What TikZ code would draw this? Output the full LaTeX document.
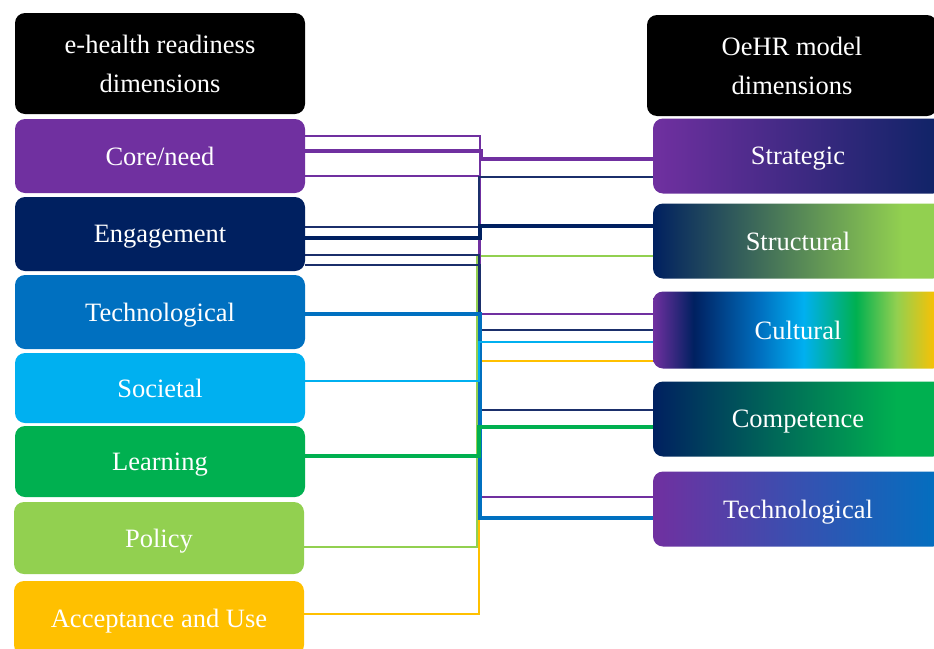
\documentclass[tikz,border=0pt]{standalone}
\usepackage{fontspec}
\setmainfont{Liberation Serif}
\usetikzlibrary{backgrounds}

\definecolor{cpurple}{HTML}{7030A0}
\definecolor{cnavy}{HTML}{002060}
\definecolor{cnavyline}{HTML}{1B2F6B}
\definecolor{cblue}{HTML}{0070C0}
\definecolor{ccyan}{HTML}{00B0F0}
\definecolor{cgreen}{HTML}{00B050}
\definecolor{clgreen}{HTML}{92D050}
\definecolor{cyellow}{HTML}{FFC000}
\definecolor{cdeep}{HTML}{0E2366}

% horizontal shadings: the node spans 25bp..75bp
\pgfdeclarehorizontalshading{shStrategic}{100bp}{color(0bp)=(cpurple); color(25bp)=(cpurple); color(75bp)=(cdeep); color(100bp)=(cdeep)}
\pgfdeclarehorizontalshading{shStructural}{100bp}{color(0bp)=(cnavy); color(25bp)=(cnavy); color(29bp)=(cnavy!90!clgreen); color(68bp)=(clgreen); color(100bp)=(clgreen)}
\pgfdeclarehorizontalshading{shCultural}{100bp}{color(0bp)=(cpurple); color(25bp)=(cpurple); color(32bp)=(cnavy); color(43.5bp)=(cblue); color(51bp)=(ccyan); color(60bp)=(cgreen); color(67bp)=(clgreen); color(74bp)=(cyellow); color(100bp)=(cyellow)}
\pgfdeclarehorizontalshading{shCompetence}{100bp}{color(0bp)=(cnavy); color(25bp)=(cnavy); color(67bp)=(cgreen); color(100bp)=(cgreen)}
\pgfdeclarehorizontalshading{shTech}{100bp}{color(0bp)=(cpurple); color(25bp)=(cpurple); color(75bp)=(cblue); color(100bp)=(cblue)}

\tikzset{
  box/.style={rounded corners=10pt, minimum width=290pt, inner sep=0pt,
    text=white, align=center, text depth=0pt, font=\fontsize{26.5}{39}\selectfont},
  thinlink/.style={line width=2.2pt},
  thicklink/.style={line width=4pt},
}

\begin{document}
\begin{tikzpicture}[x=1pt,y=-1pt]
\useasboundingbox (0,0) rectangle (934,648);

% left column: e-health readiness dimensions
\node[box, fill=black, minimum height=101pt] (hl) at (160,63.5) {e-health readiness\\dimensions};
\node[box, fill=cpurple, minimum height=74pt] (core) at (160,156) {Core/need};
\node[box, fill=cnavy, minimum height=74pt] (eng) at (160,234) {Engagement};
\node[box, fill=cblue, minimum height=74pt] (tech) at (160,312) {Technological};
\node[box, fill=ccyan, minimum height=70pt] (soc) at (160,388) {Societal};
\node[box, fill=cgreen, minimum height=71pt] (learn) at (160,461.5) {Learning};
\node[box, fill=clgreen, minimum height=72pt] (pol) at (159,538) {Policy};
\node[box, fill=cyellow, minimum height=74pt] (acc) at (159,618) {Acceptance and Use};

% right column: OeHR model dimensions
\node[box, fill=black, minimum height=101pt] (hr) at (792,65.5) {OeHR model\\dimensions};
\node[box, shading=shStrategic, minimum height=75pt] (strat) at (798,156) {Strategic};
\node[box, shading=shStructural, minimum height=75pt] (struc) at (798,241) {Structural};
\node[box, shading=shCultural, minimum height=77pt] (cult) at (798,330) {Cultural};
\node[box, shading=shCompetence, minimum height=75pt] (comp) at (798,419) {Competence};
\node[box, shading=shTech, minimum height=75pt] (techr) at (798,509) {Technological};

% links, drawn beneath the boxes
\begin{scope}[on background layer]
  % Policy -> Structural
  \draw[thinlink, clgreen] (pol.east |- 0,547) -- (477,547) -- (477,256) -- (struc.west |- 0,256);
  % Acceptance and Use -> Cultural
  \draw[thinlink, cyellow] (acc.east |- 0,614) -- (479,614) -- (479,361) -- (cult.west |- 0,361);
  % Core/need -> Technological, Cultural, Strategic
  \draw[thinlink, cpurple] (core.east |- 0,136) -- (480,136) -- (480,497) -- (techr.west |- 0,497);
  \draw[thinlink, cpurple] (core.east |- 0,176) -- (479,176) -- (479,314) -- (cult.west |- 0,314);
  \draw[thicklink, cpurple] (core.east |- 0,151) -- (481,151) -- (481,159) -- (strat.west |- 0,159);
  % Engagement -> Strategic, Structural, Cultural, Competence
  \draw[thinlink, cnavyline] (eng.east |- 0,227) -- (479,227) -- (479,177) -- (strat.west |- 0,177);
  \draw[thicklink, cnavy] (eng.east |- 0,238) -- (480,238) -- (480,226) -- (struc.west |- 0,226);
  \draw[thinlink, cnavyline] (eng.east |- 0,255) -- (479,255) -- (479,330) -- (cult.west |- 0,330);
  \draw[thinlink, cnavyline] (eng.east |- 0,265) -- (480,265) -- (480,410) -- (comp.west |- 0,410);
  % Technological -> Technological
  \draw[thicklink, cblue] (tech.east |- 0,314) -- (480,314) -- (480,518) -- (techr.west |- 0,518);
  % Societal -> Cultural
  \draw[line width=2.6pt, ccyan] (soc.east |- 0,381) -- (479,381) -- (479,342) -- (cult.west |- 0,342);
  % Learning -> Competence
  \draw[thicklink, cgreen] (learn.east |- 0,456) -- (479,456) -- (479,427) -- (comp.west |- 0,427);
\end{scope}
\end{tikzpicture}
\end{document}
